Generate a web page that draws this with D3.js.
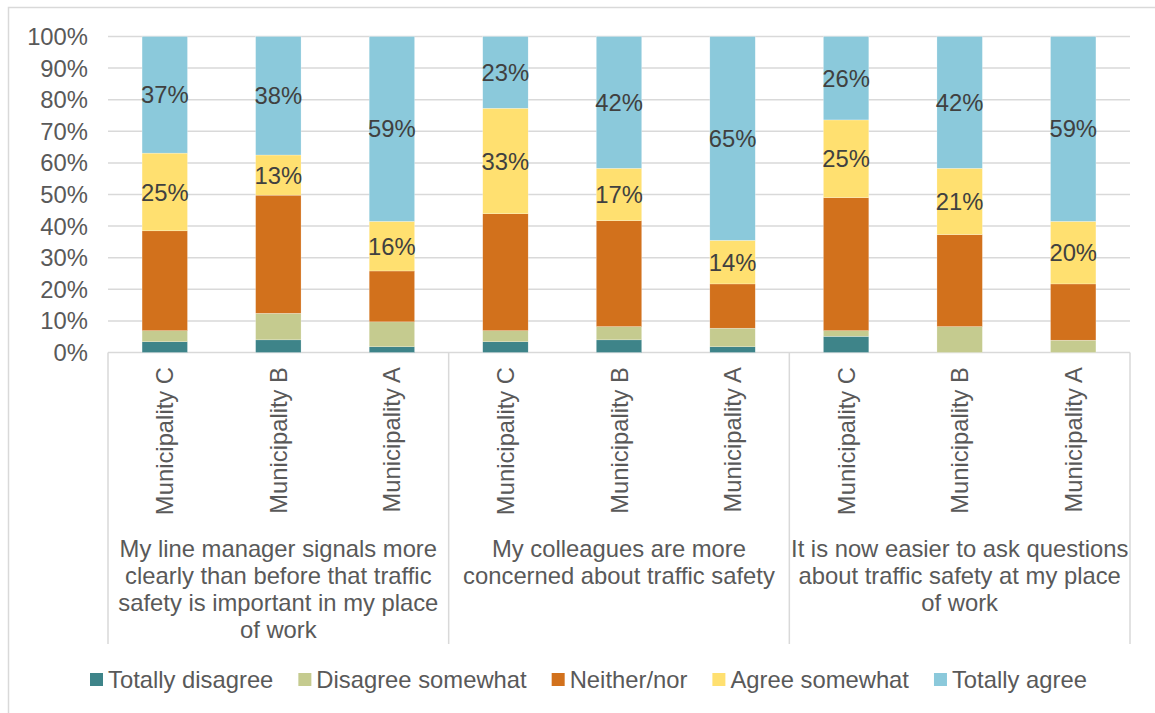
<!DOCTYPE html>
<html>
<head>
<meta charset="utf-8">
<script src="https://cdn.jsdelivr.net/npm/d3@7"></script>
<style>
  body { margin: 0; background: #fff; }
  text { font-family: "Liberation Sans", Arial, sans-serif; }
</style>
</head>
<body>
<svg id="chart" width="1155" height="713"></svg>
<script>
// categories and groups
var municipalities = ["Municipality C", "Municipality B", "Municipality A"];
var groupLabels = [
  ["My line manager signals more", "clearly than before that traffic", "safety is important in my place", "of work"],
  ["My colleagues are more", "concerned about traffic safety"],
  ["It is now easier to ask questions", "about traffic safety at my place", "of work"]
];
var seriesNames = ["Totally disagree", "Disagree somewhat", "Neither/nor", "Agree somewhat", "Totally agree"];
var seriesColors = ["#3e8489", "#c5cb8f", "#d2711c", "#ffe070", "#8bc9db"];

// values in percent, 9 bars (3 groups x C,B,A)
var totallyDisagree  = [3.4, 4.0, 1.8, 3.4, 4.0, 1.8, 5.1, 0, 0];
var disagreeSomewhat = [3.5, 8.4, 7.9, 3.5, 4.2, 5.9, 1.8, 8.2, 3.9];
var neitherNor       = [31.6, 37.4, 16.1, 37.0, 33.5, 14.0, 42.1, 29.1, 17.8];
var agreeSomewhat    = [24.6, 12.7, 15.7, 33.4, 16.6, 13.8, 24.6, 21.0, 19.8];
var totallyAgree     = [36.9, 37.5, 58.5, 22.7, 41.7, 64.5, 26.4, 41.7, 58.5];
var yTicks = [0, 10, 20, 30, 40, 50, 60, 70, 80, 90, 100];

var series = [totallyDisagree, disagreeSomewhat, neitherNor, agreeSomewhat, totallyAgree];
var labelled = [false, false, false, true, true];

var svg = d3.select("#chart");
var plotLeft = 108, plotRight = 1130, plotTop = 36.5, plotBottom = 352.5;
var fs = 23.8;

// outer border (chart area)
svg.append("rect")
  .attr("x", 8.5).attr("y", 7.5)
  .attr("width", 1160).attr("height", 720)
  .attr("fill", "none").attr("stroke", "#d9d9d9").attr("stroke-width", 1.5);

var bars = d3.range(9);
var xScale = d3.scaleBand().domain(bars).range([plotLeft, plotRight])
  .paddingInner(0.6).paddingOuter(0.3);
var yScale = d3.scaleLinear().domain([0, 100]).range([plotBottom, plotTop]);

// gridlines
svg.append("g").selectAll("line")
  .data(yTicks)
  .enter().append("line")
  .attr("x1", plotLeft).attr("x2", plotRight)
  .attr("y1", function(d) { return yScale(d); })
  .attr("y2", function(d) { return yScale(d); })
  .attr("stroke", "#d9d9d9").attr("stroke-width", 1.5);

// y tick labels
svg.append("g").selectAll("text")
  .data(yTicks)
  .enter().append("text")
  .attr("x", 88)
  .attr("y", function(d) { return yScale(d); })
  .attr("dy", "0.36em")
  .attr("text-anchor", "end")
  .attr("fill", "#595959")
  .style("font-size", fs + "px")
  .text(function(d) { return d + "%"; });

// stacked bars
var stackData = bars.map(function(i) {
  var o = { i: i };
  seriesNames.forEach(function(s, k) { o[s] = series[k][i]; });
  return o;
});
var stacked = d3.stack().keys(seriesNames)(stackData);

var layers = svg.append("g").selectAll("g")
  .data(stacked)
  .enter().append("g")
  .attr("fill", function(d, k) { return seriesColors[k]; });

layers.selectAll("rect")
  .data(function(d) { return d; })
  .enter().append("rect")
  .attr("x", function(d) { return xScale(d.data.i); })
  .attr("width", xScale.bandwidth())
  .attr("y", function(d) { return yScale(d[1]); })
  .attr("height", function(d) { return yScale(d[0]) - yScale(d[1]); })
  .attr("stroke", "#fff").attr("stroke-width", 0.4).attr("stroke-opacity", 0.6);

// data labels on agree segments
stacked.forEach(function(layer, k) {
  if (!labelled[k]) return;
  svg.append("g").selectAll("text")
    .data(layer)
    .enter().append("text")
    .attr("x", function(d) { return xScale(d.data.i) + xScale.bandwidth() / 2; })
    .attr("y", function(d) { return yScale((d[0] + d[1]) / 2); })
    .attr("dy", "0.36em")
    .attr("text-anchor", "middle")
    .attr("fill", "#404040")
    .style("font-size", fs + "px")
    .text(function(d) { return Math.round(d[1] - d[0]) + "%"; });
});

// group separators
var step = xScale.step();
var sepX = [0, 3, 6, 9].map(function(g) { return plotLeft + g * step; });
svg.append("g").selectAll("line")
  .data(sepX)
  .enter().append("line")
  .attr("x1", function(d) { return d; }).attr("x2", function(d) { return d; })
  .attr("y1", plotBottom).attr("y2", 644)
  .attr("stroke", "#d9d9d9").attr("stroke-width", 1.5);

// rotated municipality labels
svg.append("g").selectAll("text")
  .data(bars)
  .enter().append("text")
  .attr("transform", function(i) {
    return "translate(" + (xScale(i) + xScale.bandwidth() / 2) + ",367) rotate(-90)";
  })
  .attr("dy", "0.36em")
  .attr("text-anchor", "end")
  .attr("fill", "#595959")
  .style("font-size", fs + "px")
  .text(function(i) { return municipalities[i % 3]; });

// group labels
groupLabels.forEach(function(lines, g) {
  var cx = plotLeft + (g * 3 + 1.5) * step;
  svg.append("g").selectAll("text")
    .data(lines)
    .enter().append("text")
    .attr("x", cx)
    .attr("y", function(d, j) { return 548 + j * 27; })
    .attr("dy", "0.36em")
    .attr("text-anchor", "middle")
    .attr("fill", "#595959")
    .style("font-size", fs + "px")
    .text(function(d) { return d; });
});

// legend
var legend = svg.append("g");
var lx = 90;
seriesNames.forEach(function(name, k) {
  legend.append("rect")
    .attr("x", lx).attr("y", 673)
    .attr("width", 13).attr("height", 13)
    .attr("fill", seriesColors[k]);
  var t = legend.append("text")
    .attr("x", lx + 18).attr("y", 679.5)
    .attr("dy", "0.36em")
    .attr("fill", "#595959")
    .style("font-size", fs + "px")
    .text(name);
  lx += 18 + t.node().getComputedTextLength() + 25;
});
</script>
</body>
</html>
